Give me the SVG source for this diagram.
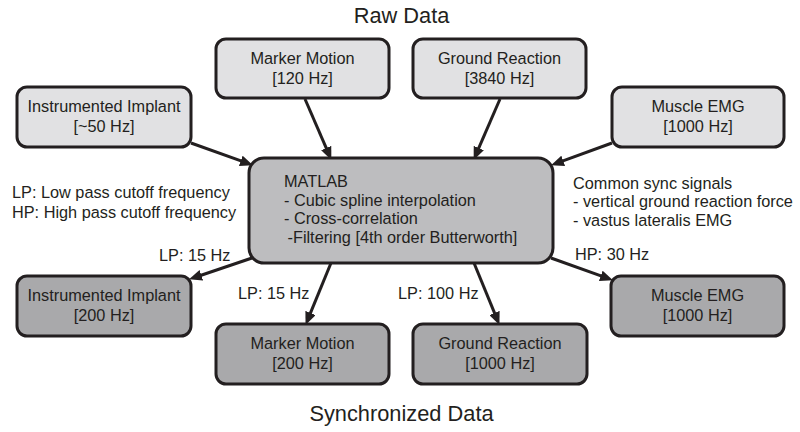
<svg xmlns="http://www.w3.org/2000/svg" width="800" height="432" viewBox="0 0 800 432">
<style>
text{font-family:"Liberation Sans",Arial,sans-serif;fill:#231f20;font-size:16.3px}
.title{font-size:21.8px}
.c{text-anchor:middle}
.box{stroke:#231f20;stroke-width:3}
.raw{fill:#e1e1e3}
.sync{fill:#a9a9ab}
.mid{fill:#bdbdbf}
.conn line{stroke:#231f20;stroke-width:3}
</style>
<defs>
<marker id="ah" markerUnits="userSpaceOnUse" markerWidth="13" markerHeight="11" viewBox="0 -5.5 13 11" refX="1" refY="0" orient="auto">
<path d="M0,-5.5 L13,0 L0,5.5 z" fill="#231f20"/>
</marker>
</defs>
<rect width="800" height="432" fill="#ffffff"/>
<text class="title c" x="401.5" y="23">Raw Data</text>
<text class="title c" x="401.5" y="421">Synchronized Data</text>

<g class="conn">
<line x1="191" y1="143" x2="241.7" y2="161.2" marker-end="url(#ah)"/>
<line x1="305" y1="99" x2="326.6" y2="148.9" marker-end="url(#ah)"/>
<line x1="500" y1="99" x2="478.4" y2="148.9" marker-end="url(#ah)"/>
<line x1="612" y1="143" x2="562.3" y2="161.2" marker-end="url(#ah)"/>
<line x1="252" y1="258" x2="200.4" y2="275.5" marker-end="url(#ah)"/>
<line x1="331" y1="263" x2="310.1" y2="313.9" marker-end="url(#ah)"/>
<line x1="474" y1="263" x2="494.9" y2="313.9" marker-end="url(#ah)"/>
<line x1="551" y1="258" x2="601.7" y2="276.2" marker-end="url(#ah)"/>
</g>

<g id="raw-implant">
<rect class="box raw" x="17" y="87" width="174" height="60" rx="10"/>
<text class="c" x="104" y="112">Instrumented Implant</text>
<text class="c" x="104" y="132">[~50 Hz]</text>
</g>
<g id="raw-marker">
<rect class="box raw" x="216" y="39" width="173" height="59" rx="10"/>
<text class="c" x="302.5" y="63.5">Marker Motion</text>
<text class="c" x="302.5" y="83.5">[120 Hz]</text>
</g>
<g id="raw-ground">
<rect class="box raw" x="413" y="39" width="173" height="59" rx="10"/>
<text class="c" x="499.5" y="63.5">Ground Reaction</text>
<text class="c" x="499.5" y="83.5">[3840 Hz]</text>
</g>
<g id="raw-emg">
<rect class="box raw" x="612" y="87" width="172" height="60" rx="10"/>
<text class="c" x="698" y="112">Muscle EMG</text>
<text class="c" x="698" y="132">[1000 Hz]</text>
</g>

<g id="matlab">
<rect class="box mid" x="249" y="158" width="304" height="105" rx="15"/>
<text x="284" y="187">MATLAB</text>
<text x="284" y="205.5">- Cubic spline interpolation</text>
<text x="284" y="224">- Cross-correlation</text>
<text x="283" y="242.5" xml:space="preserve"> -Filtering [4th order Butterworth]</text>
</g>

<g id="sync-implant">
<rect class="box sync" x="17" y="276" width="174" height="60" rx="10"/>
<text class="c" x="104" y="301">Instrumented Implant</text>
<text class="c" x="104" y="321">[200 Hz]</text>
</g>
<g id="sync-marker">
<rect class="box sync" x="216" y="324" width="173" height="60" rx="10"/>
<text class="c" x="302.5" y="349">Marker Motion</text>
<text class="c" x="302.5" y="369">[200 Hz]</text>
</g>
<g id="sync-ground">
<rect class="box sync" x="413" y="324" width="174" height="60" rx="10"/>
<text class="c" x="500" y="349">Ground Reaction</text>
<text class="c" x="500" y="369">[1000 Hz]</text>
</g>
<g id="sync-emg">
<rect class="box sync" x="611" y="276" width="173" height="60" rx="10"/>
<text class="c" x="697.5" y="301">Muscle EMG</text>
<text class="c" x="697.5" y="321">[1000 Hz]</text>
</g>

<g id="labels">
<text x="12" y="198">LP: Low pass cutoff frequency</text>
<text x="12" y="218">HP: High pass cutoff frequency</text>
<text x="573" y="188.5">Common sync signals</text>
<text x="573" y="207">- vertical ground reaction force</text>
<text x="573" y="225.5">- vastus lateralis EMG</text>
<text x="159" y="261">LP: 15 Hz</text>
<text x="238" y="299">LP: 15 Hz</text>
<text x="398" y="299">LP: 100 Hz</text>
<text x="575" y="260">HP: 30 Hz</text>
</g>
</svg>
